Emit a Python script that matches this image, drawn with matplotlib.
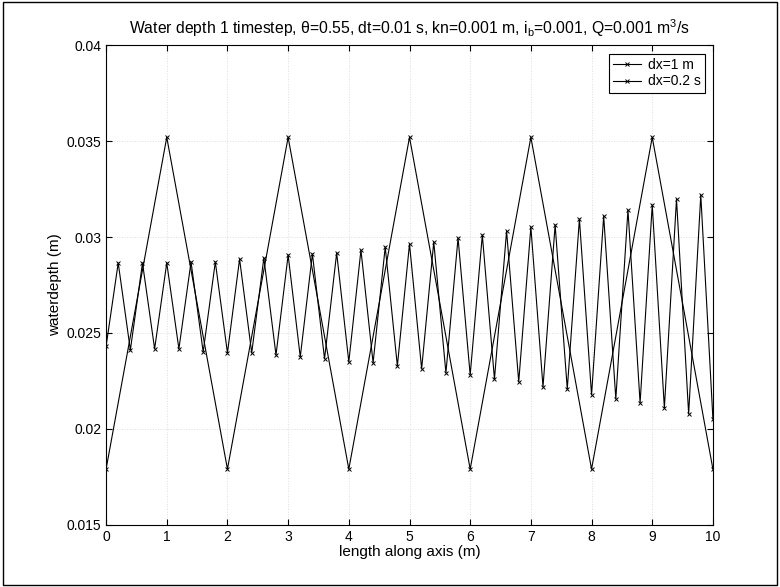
import matplotlib
matplotlib.use('Agg')
import matplotlib.pyplot as plt
import numpy as np

plt.rcParams['font.family'] = ['Liberation Sans', 'DejaVu Sans']

# dx = 1 m
x1 = [0, 1, 2, 3, 4, 5, 6, 7, 8, 9, 10]
h1 = [0.0179, 0.0352, 0.0179, 0.0352, 0.0179, 0.0352, 0.0179, 0.0352, 0.0179, 0.0352, 0.0179]

# dx = 0.2 : peaks at 0.2, 0.6, ... and troughs at 0, 0.4, 0.8, ...
x2 = [round(0.2 * i, 1) for i in range(51)]
troughs = [0.0243,
           0.02411, 0.02417, 0.02417, 0.02401, 0.02396, 0.02396, 0.02385, 0.02375,
           0.02365, 0.02349, 0.02344, 0.02328, 0.02313, 0.02292, 0.02281, 0.02260,
           0.02245, 0.02219, 0.02208, 0.02177, 0.02156, 0.02135, 0.02109, 0.02078,
           0.02052]
peaks = [0.02865, 0.02865, 0.02865, 0.02870, 0.02870, 0.02885, 0.02891, 0.02906,
         0.02912, 0.02917, 0.02932, 0.02948, 0.02964, 0.02974, 0.02995, 0.03010,
         0.03031, 0.03052, 0.03063, 0.03094, 0.03109, 0.03141, 0.03167, 0.03198,
         0.03219]
h2 = []
for i in range(25):
    h2.append(troughs[i])
    h2.append(peaks[i])
h2.append(troughs[25])

fig = plt.figure(figsize=(7.8, 5.87), dpi=100)
ax = fig.add_axes([0.136, 0.106, 0.778, 0.817])

ax.plot(x1, h1, color='black', lw=0.8, marker='x', ms=3, mew=0.7, label='dx=1 m')
ax.plot(x2, h2, color='black', lw=0.8, marker='x', ms=3, mew=0.7, label='dx=0.2 s')

ax.set_xlim(0, 10)
ax.set_ylim(0.015, 0.04)
ax.set_xticks(np.arange(0, 11, 1))
ax.set_yticks([0.015, 0.02, 0.025, 0.03, 0.035, 0.04])
ax.set_yticklabels(['0.015', '0.02', '0.025', '0.03', '0.035', '0.04'])
ax.tick_params(direction='in', top=True, right=True, labelsize=10, length=4)
ax.grid(True, linestyle=':', color='#dddddd', lw=0.7)
for s in ax.spines.values():
    s.set_linewidth(0.8)

ax.set_xlabel('length along axis (m)', fontsize=11, labelpad=1)
ax.set_ylabel('waterdepth (m)', fontsize=11, labelpad=3)
ax.set_title('Water depth 1 timestep, \u03b8=0.55, dt=0.01 s, kn=0.001 m, i$_\\mathregular{b}$=0.001, Q=0.001 m$^\\mathregular{3}$/s',
             fontsize=11.3, pad=8)

leg = ax.legend(loc='upper right', fontsize=10, fancybox=False, framealpha=1,
                edgecolor='black', borderaxespad=0.6, handlelength=2.0,
                borderpad=0.3, labelspacing=0.2, handletextpad=0.5)
leg.get_frame().set_linewidth(0.8)

# page border from the scan
fig.patches.append(plt.Rectangle((0.004, 0.004), 0.992, 0.992, transform=fig.transFigure,
                                 fill=False, edgecolor='black', lw=1.0))

fig.savefig('out.png', dpi=100)
